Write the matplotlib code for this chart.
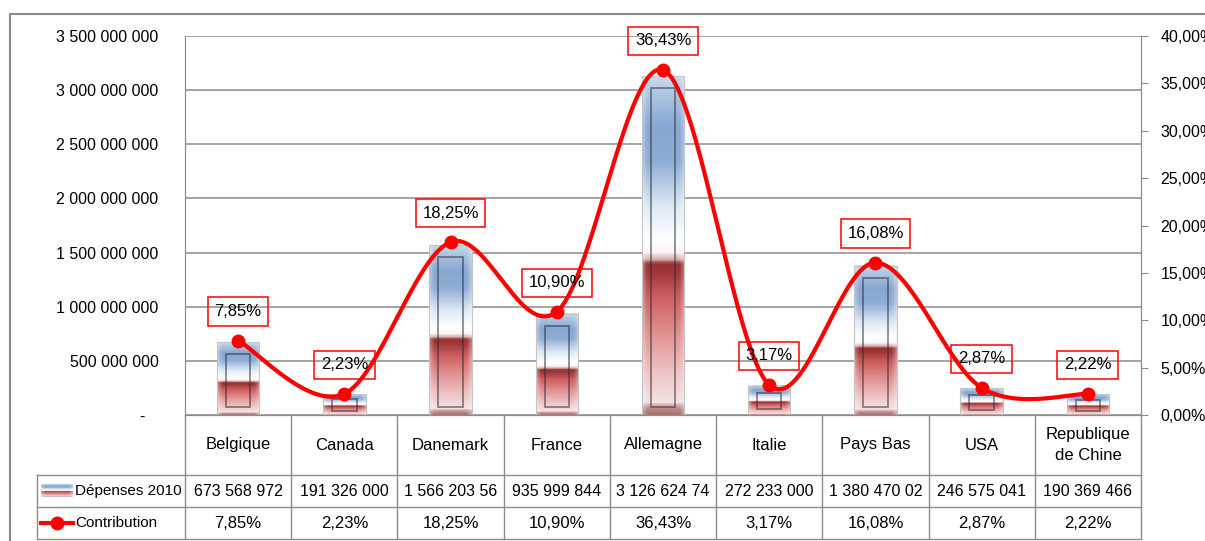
import numpy as np
import matplotlib
matplotlib.use("Agg")
import matplotlib.pyplot as plt
from matplotlib.colors import LinearSegmentedColormap
from matplotlib.patches import Rectangle
from matplotlib.ticker import FuncFormatter

plt.rcParams['font.family'] = ['Liberation Sans', 'DejaVu Sans']

# Data
pays = ["Belgique", "Canada", "Danemark", "France", "Allemagne", "Italie",
        "Pays Bas", "USA", "Republique\nde Chine"]
depenses = [673568972, 191326000, 1566203560, 935999844, 3126624740,
            272233000, 1380470020, 246575041, 190369466]
contribution = [7.85, 2.23, 18.25, 10.90, 36.43, 3.17, 16.08, 2.87, 2.22]

W, H = 1205, 541
FS = 11.5
GRID = '#8c8c8c'

fig = plt.figure(figsize=(W / 100, H / 100), dpi=100)

# plot area in pixels
x0, x1, y0, y1 = 185, 1141, 36, 415
ax = fig.add_axes([x0 / W, 1 - y1 / H, (x1 - x0) / W, (y1 - y0) / H])
ax2 = ax.twinx()

# bar gradient: red at the bottom, white band, blue at the top
stops = [(0.00, '#a87070'), (0.02, '#c89898'), (0.035, '#f5e2e2'), (0.12, '#efc4c4'),
         (0.25, '#e08c8c'), (0.35, '#cc5e5e'), (0.42, '#a03636'), (0.445, '#983030'),
         (0.46, '#d8b0b0'), (0.48, '#fbf6f6'), (0.52, '#ffffff'), (0.62, '#dce8f4'),
         (0.75, '#8eadd5'), (0.85, '#86a7d2'), (0.95, '#aec6e2'), (1.00, '#c8d8ec')]
cmap = LinearSegmentedColormap.from_list('barfill', stops)

def bar_image(nv=200, nh=40):
    v = cmap(np.linspace(1, 0, nv))[:, :3]
    h = np.linspace(0, 1, nh)
    edge = np.clip(1 - np.minimum(h, 1 - h) / 0.12, 0, 1) * 0.35
    img = v[:, None, :] * (1 - edge[None, :, None]) + edge[None, :, None]
    return img

img = bar_image()
bw = 0.40
n = len(pays)
px_x = (x1 - x0) / n          # pixels per category
px_y = (y1 - y0) / 3.5e9      # pixels per unit on the left axis

for i, v in enumerate(depenses):
    ax.imshow(img, extent=(i - bw / 2, i + bw / 2, 0, v), aspect='auto',
              interpolation='bilinear', zorder=2)
    ax.add_patch(Rectangle((i - bw / 2, 0), bw, v, fill=False, ec='#c4c4c4',
                           lw=0.8, zorder=3))
    hpx = v * px_y
    top = min(12, 0.25 * hpx) / px_y
    bot = min(8, 0.2 * hpx) / px_y
    ins = 9 / px_x
    ax.add_patch(Rectangle((i - bw / 2 + ins, bot), bw - 2 * ins, v - top - bot,
                           fill=False, ec='#2a2a35', lw=1.4, alpha=0.5, zorder=3))

ax.set_xlim(-0.5, n - 0.5)
ax.set_ylim(0, 3.5e9)
ax.set_yticks(np.arange(0, 3.5e9 + 1, 5e8))
ax.yaxis.set_major_formatter(FuncFormatter(
    lambda v, p: '-   ' if v == 0 else f"{int(v):,}".replace(',', ' ')))
ax.tick_params(axis='y', length=0, pad=19, labelsize=FS)
ax.set_xticks([])
ax.grid(axis='y', color=GRID, lw=1.1)
ax.set_axisbelow(True)
ax.spines['top'].set_visible(False)
for s in ['left', 'bottom', 'right']:
    ax.spines[s].set_color(GRID)

# smoothed line (Bezier through the points, in pixel proportions)
def smooth(xs, ys, sx, sy, k=40):
    P = np.column_stack([np.asarray(xs) * sx, np.asarray(ys) * sy])
    out = []
    for j in range(len(P) - 1):
        p0 = P[j - 1] if j > 0 else P[j]
        p1, p2 = P[j], P[j + 1]
        p3 = P[j + 2] if j + 2 < len(P) else P[j + 1]
        c1 = p1 + (p2 - p0) / 6
        c2 = p2 - (p3 - p1) / 6
        t = np.linspace(0, 1, k)[:, None]
        seg = (1 - t) ** 3 * p1 + 3 * (1 - t) ** 2 * t * c1 + 3 * (1 - t) * t ** 2 * c2 + t ** 3 * p2
        out.append(seg if j == 0 else seg[1:])
    pts = np.vstack(out)
    return pts[:, 0] / sx, pts[:, 1] / sy

xs = np.arange(n)
sx_, sy_ = smooth(xs, contribution, px_x, (y1 - y0) / 40)
ax2.plot(sx_, sy_, color='#ff0000', lw=3, solid_capstyle='round', zorder=4)
ax2.plot(xs, contribution, 'o', color='#ff0000', ms=9, zorder=5)
for i, c in enumerate(contribution):
    ax2.annotate(f"{c:.2f}%".replace('.', ','), (i, c), xytext=(0, 29),
                 textcoords='offset pixels', ha='center', va='center', fontsize=12,
                 bbox=dict(boxstyle='square,pad=0.4', fc='none', ec='#ff0000', lw=1.1),
                 zorder=6)

ax2.set_ylim(0, 40)
ax2.set_yticks(np.arange(0, 41, 5))
ax2.yaxis.set_major_formatter(FuncFormatter(lambda v, p: f"{v:.2f}%".replace('.', ',')))
ax2.tick_params(axis='y', direction='out', length=5, color=GRID, pad=9, labelsize=FS)
ax2.spines['top'].set_visible(False)
for s in ['left', 'bottom', 'right']:
    ax2.spines[s].set_color(GRID)
ax2.set_xlim(-0.5, n - 0.5)

# data table under the plot
ov = fig.add_axes([0, 0, 1, 1], zorder=10)
ov.axis('off')

# outer chart border
ov.plot([10, 10, W], [H, 14, 14], color='#8a8a8a', lw=1.5)

r0, r1, r2, r3 = y1, 475, 507, 539
tl = 37
for k in range(n + 1):
    xk = x0 + k * px_x
    ov.plot([xk, xk], [r0, r3], color=GRID, lw=1)
for yy in (r1, r2, r3):
    ov.plot([tl, x1], [yy, yy], color=GRID, lw=1)
ov.plot([tl, tl], [r1, r3], color=GRID, lw=1)

for i in range(n):
    cx = x0 + (i + 0.5) * px_x
    ov.text(cx, (r0 + r1) / 2, pays[i], ha='center', va='center', fontsize=12,
            linespacing=1.5)
    ov.text(cx, (r1 + r2) / 2, f"{depenses[i]:,}".replace(',', ' ')[:12],
            ha='center', va='center', fontsize=FS)
    ov.text(cx, (r2 + r3) / 2, f"{contribution[i]:.2f}%".replace('.', ','),
            ha='center', va='center', fontsize=12)

# legend keys inside the table
ov.imshow(img, extent=(41, 73, 497, 484), aspect='auto', interpolation='bilinear')
ov.text(75, (r1 + r2) / 2, "Dépenses 2010", ha='left', va='center', fontsize=11)
ov.plot([41, 73], [(r2 + r3) / 2] * 2, color='#ff0000', lw=3)
ov.plot([57], [(r2 + r3) / 2], 'o', color='#ff0000', ms=9)
ov.text(75, (r2 + r3) / 2, "Contribution", ha='left', va='center', fontsize=11)
ov.set_xlim(0, W)
ov.set_ylim(H, 0)

fig.savefig('out.png', dpi=100)
